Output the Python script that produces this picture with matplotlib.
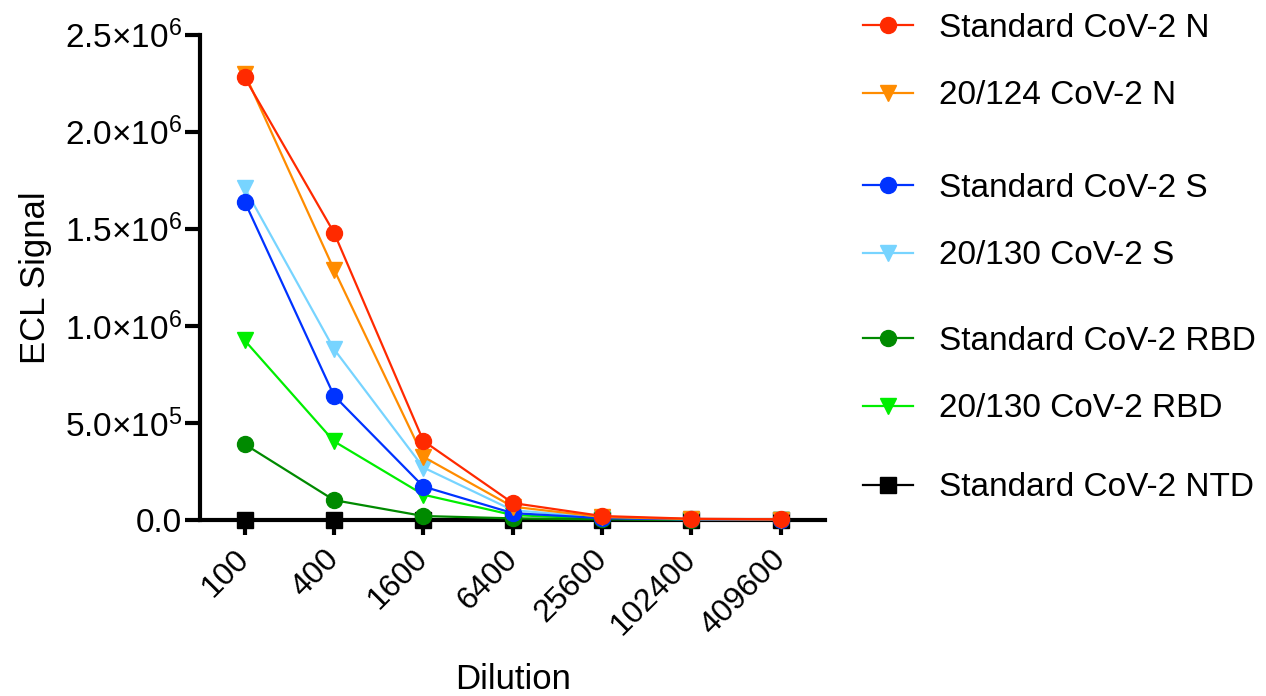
import matplotlib
matplotlib.use("Agg")
import matplotlib.pyplot as plt
from matplotlib.lines import Line2D

plt.rcParams['font.family'] = ['Liberation Sans', 'DejaVu Sans']
plt.rcParams['mathtext.fontset'] = 'custom'
plt.rcParams['mathtext.rm'] = 'Liberation Sans'
plt.rcParams['mathtext.it'] = 'Liberation Sans:italic'
plt.rcParams['mathtext.bf'] = 'Liberation Sans:bold'

dilutions = ["100", "400", "1600", "6400", "25600", "102400", "409600"]

std_n = [2.28e6, 1.48e6, 4.07e5, 8.7e4, 2.0e4, 6.0e3, 3.0e3]
who_n = [2.30e6, 1.29e6, 3.25e5, 6.8e4, 1.5e4, 4.0e3, 2.0e3]
std_s = [1.64e6, 6.40e5, 1.72e5, 3.5e4, 9.0e3, 2.5e3, 1.0e3]
who_s = [1.71e6, 8.80e5, 2.70e5, 5.0e4, 1.2e4, 3.0e3, 1.5e3]
std_rbd = [3.90e5, 1.02e5, 2.0e4, 8.0e3, 3.0e3, 1.0e3, 500]
who_rbd = [9.25e5, 4.05e5, 1.30e5, 2.5e4, 6.0e3, 1.5e3, 800]
std_ntd = [1.0e3, 1.0e3, 1.0e3, 1.0e3, 800, 600, 500]

labels = ["Standard CoV-2 N", "20/124 CoV-2 N", "Standard CoV-2 S", "20/130 CoV-2 S",
          "Standard CoV-2 RBD", "20/130 CoV-2 RBD", "Standard CoV-2 NTD"]
series = [std_n, who_n, std_s, who_s, std_rbd, who_rbd, std_ntd]
colors = ["#ff2a00", "#ff8c00", "#0033ff", "#77d4ff", "#008a00", "#00ee00", "#000000"]
markers = ["o", "v", "o", "v", "o", "v", "s"]

yticks = [0, 5e5, 1e6, 1.5e6, 2e6, 2.5e6]
yticklabels = ["0.0", r"$\mathregular{5.0×10^5}$", r"$\mathregular{1.0×10^6}$",
               r"$\mathregular{1.5×10^6}$", r"$\mathregular{2.0×10^6}$", r"$\mathregular{2.5×10^6}$"]

fig = plt.figure(figsize=(12.66, 6.96), dpi=100)
ax = fig.add_axes([0.158, 0.253, 0.494, 0.697])

x = list(range(len(dilutions)))
# draw last series first so the red one sits on top
for i in reversed(range(len(series))):
    ax.plot(x, series[i], color=colors[i], marker=markers[i], markersize=11.5,
            linewidth=1.6, clip_on=False, zorder=3 + (len(series) - i) * 0.1)

ax.set_xlim(-0.5, 6.5)
ax.set_ylim(0, 2.5e6)
ax.set_xticks(x)
ax.set_xticklabels(dilutions, rotation=45, ha="right", va="center", rotation_mode="anchor")
ax.set_yticks(yticks)
ax.set_yticklabels(yticklabels)

for side in ["top", "right"]:
    ax.spines[side].set_visible(False)
for side in ["left", "bottom"]:
    ax.spines[side].set_linewidth(3)
ax.spines["bottom"].set_zorder(2.5)
ax.tick_params(axis="both", width=3, length=11, direction="out")
ax.tick_params(axis="x", pad=14, labelsize=23)
ax.tick_params(axis="y", pad=2, labelsize=24)

ax.set_xlabel("Dilution", fontsize=25, labelpad=16)
ax.set_ylabel("ECL Signal", fontsize=25, labelpad=9)

handles = [Line2D([0], [0], color=colors[i], marker=markers[i], markersize=11.5, linewidth=1.6)
           for i in range(len(series))]

groups = [([0, 1], 62), ([2, 3], 222), ([4, 5], 375), ([6], 488)]
for idx, ypix in groups:
    leg = fig.legend([handles[i] for i in idx], [labels[i] for i in idx],
                     loc="center left", bbox_to_anchor=(0.671, 1 - ypix / 696),
                     frameon=False, fontsize=24, handlelength=1.5, handletextpad=0.8,
                     labelspacing=1.1, borderaxespad=0)

fig.savefig("out.png", dpi=100)
